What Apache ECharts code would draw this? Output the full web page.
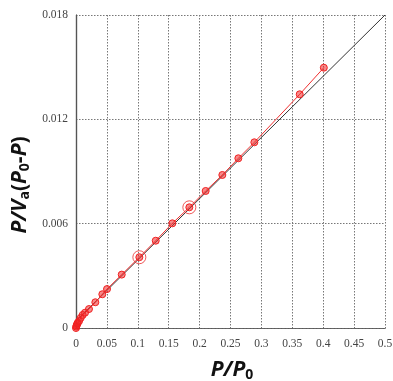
<!DOCTYPE html>
<html>
<head>
<meta charset="utf-8">
<script src="https://cdn.jsdelivr.net/npm/echarts@6/dist/echarts.min.js"></script>
<style>
  html, body { margin: 0; padding: 0; background: #fff; }
  #chart { width: 393px; height: 381px; }
</style>
</head>
<body>
<div id="chart"></div>
<script>
// measured points, P/P0 vs P/Va(P0-P)
const relPressure = [0, 0.0005, 0.001, 0.002, 0.003, 0.005, 0.0076, 0.0108, 0.0146, 0.021, 0.0313, 0.0426, 0.0502, 0.074, 0.1025, 0.129, 0.1559, 0.1834, 0.2098, 0.2368, 0.2627, 0.2886, 0.362, 0.401];
const betValue = [0, 0.00008, 0.00015, 0.00024, 0.0003, 0.0004, 0.00058, 0.00075, 0.00088, 0.00109, 0.00148, 0.00194, 0.00224, 0.00307, 0.00407, 0.00502, 0.00602, 0.00694, 0.00788, 0.0088, 0.00976, 0.01068, 0.01344, 0.01497];
// points marked with an extra ring
const ringX = [0.1025, 0.1834];
const ringY = [0.00407, 0.00694];
// linear fit line ends
const fitX = [0, 0.5];
const fitY = [0.0004, 0.018];

const pts = relPressure.map((x, i) => [x, betValue[i]]);
const rings = ringX.map((x, i) => [x, ringY[i]]);
const fit = fitX.map((x, i) => [x, fitY[i]]);

const chart = echarts.init(document.getElementById('chart'));
const tickFont = { fontFamily: 'Liberation Serif', fontSize: 11.5, color: '#444' };
const dotted = { show: true, lineStyle: { color: '#777', type: [1.5, 1.5], width: 1 } };
const titleRich = {
  i: { fontFamily: 'Open Sans', fontStyle: 'italic', fontWeight: 'bold', fontSize: 21, fill: '#111', color: '#111' },
  n: { fontFamily: 'Open Sans', fontWeight: 'bold', fontSize: 21, fill: '#111', color: '#111' },
  s: { fontFamily: 'Open Sans', fontWeight: 'bold', fontSize: 14, fill: '#111', color: '#111', verticalAlign: 'bottom', padding: [11, 0, 0, 0] }
};

chart.setOption({
  animation: false,
  grid: { left: 76, right: 8, top: 15, bottom: 53, outerBoundsMode: 'none', containLabel: false },
  // axis titles placed by hand (rich text with subscripts)
  graphic: [{
    type: 'text', x: 232, y: 370,
    style: { text: '{i|P}{i|/}{i|P}{s|0}', rich: titleRich, align: 'center', verticalAlign: 'middle' }
  }, {
    type: 'text', x: 20, y: 185, rotation: Math.PI / 2,
    style: { text: '{i|P}{i|/}{i|V}{s|a}{n|(}{i|P}{s|0}{n|-}{i|P}{n|)}', rich: titleRich, align: 'center', verticalAlign: 'middle' }
  }],
  xAxis: [{
    type: 'value', min: 0, max: 0.5, interval: 0.05,
    axisLine: { onZero: false, lineStyle: { color: '#555', width: 1.2 } },
    axisTick: { show: false },
    axisLabel: Object.assign({ margin: 10 }, tickFont),
    splitLine: dotted
  }, {
    type: 'value', position: 'top', min: 0, max: 0.5, interval: 0.05,
    axisLine: { show: true, lineStyle: { color: '#666', type: [2, 1.5], width: 1 } },
    axisTick: { show: false }, axisLabel: { show: false }, splitLine: { show: false }
  }],
  yAxis: [{
    type: 'value', min: 0, max: 0.018, interval: 0.006,
    axisLine: { show: true, onZero: false, lineStyle: { color: '#555', width: 1.2 } },
    axisTick: { show: false },
    axisLabel: Object.assign({ margin: 8 }, tickFont),
    splitLine: dotted
  }, {
    type: 'value', position: 'right', min: 0, max: 0.018, interval: 0.006,
    axisLine: { show: true, lineStyle: { color: '#555', width: 1.2 } },
    axisTick: { show: false }, axisLabel: { show: false }, splitLine: { show: false }
  }],
  series: [{
    type: 'line', data: fit, symbol: 'none', silent: true, z: 3,
    lineStyle: { color: '#333', width: 1 }
  }, {
    type: 'line', data: pts, symbol: 'circle', symbolSize: 7, z: 4,
    lineStyle: { color: '#f03030', width: 1 },
    itemStyle: { color: 'rgba(240,40,40,0.55)', borderColor: '#f02020', borderWidth: 1 }
  }, {
    type: 'scatter', data: rings, symbol: 'circle', symbolSize: 13, z: 5,
    itemStyle: { color: 'rgba(0,0,0,0)', borderColor: '#e83030', borderWidth: 1 }
  }]
});
</script>
</body>
</html>
